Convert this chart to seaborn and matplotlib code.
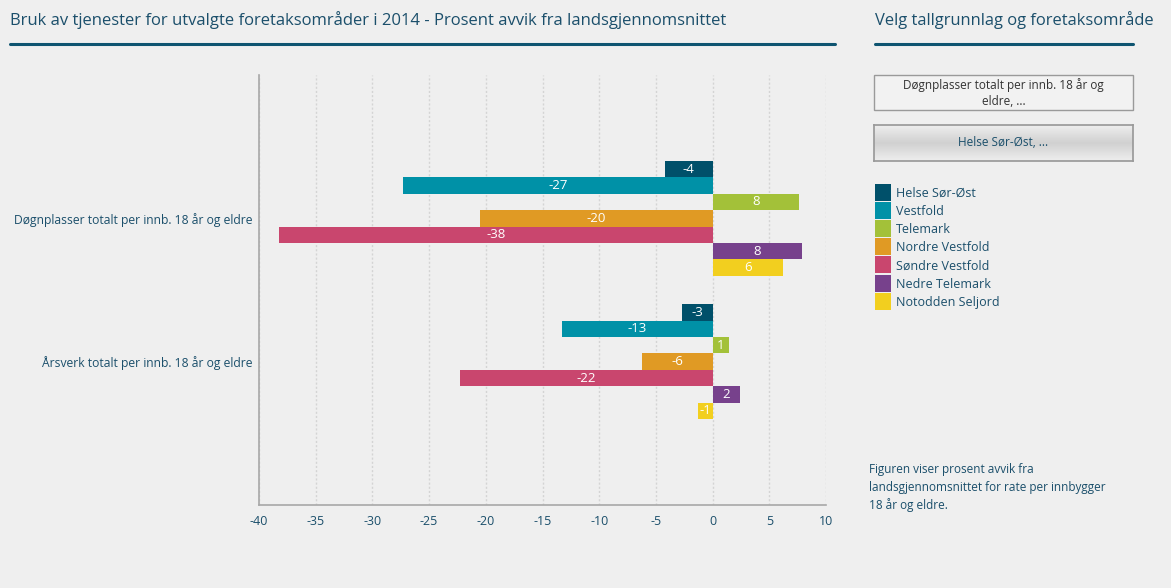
import matplotlib
matplotlib.use("Agg")
import matplotlib.pyplot as plt
import matplotlib.patches as mpatches
import seaborn as sns
import pandas as pd
import numpy as np

categories = ["Døgnplasser totalt per innb. 18 år og eldre",
              "Årsverk totalt per innb. 18 år og eldre"]
areas = ["Helse Sør-Øst", "Vestfold", "Telemark", "Nordre Vestfold",
         "Søndre Vestfold", "Nedre Telemark", "Notodden Seljord"]
dognplasser = [-4.2, -27.3, 7.6, -20.5, -38.2, 7.9, 6.2]
arsverk = [-2.7, -13.3, 1.45, -6.2, -22.3, 2.4, -1.3]
colors = ["#00506a", "#0091a7", "#a3c139", "#e09a24", "#c9466e", "#77418c", "#f2cf1f"]
xticks = [-40, -35, -30, -25, -20, -15, -10, -5, 0, 5, 10]

title = "Bruk av tjenester for utvalgte foretaksområder i 2014 - Prosent avvik fra landsgjennomsnittet"
side_title = "Velg tallgrunnlag og foretaksområde"
button1 = "Døgnplasser totalt per innb. 18 år og\neldre, ..."
button2 = "Helse Sør-Øst, ..."
note = "Figuren viser prosent avvik fra\nlandsgjennomsnittet for rate per innbygger\n18 år og eldre."

df = pd.DataFrame({
    "kategori": [categories[0]] * len(areas) + [categories[1]] * len(areas),
    "omrade": areas + areas,
    "verdi": dognplasser + arsverk,
})

sns.set_theme(style="white")
plt.rcParams["font.family"] = ["Open Sans", "DejaVu Sans"]
BG = "#efefef"
TXT = "#1b4f6b"

fig = plt.figure(figsize=(11.71, 5.88), dpi=100, facecolor=BG)
W, H = 1171, 588
ax = fig.add_axes([259 / W, 1 - 505 / H, (826 - 259) / W, (505 - 75) / H])
ax.set_facecolor(BG)

sns.barplot(data=df, y="kategori", x="verdi", hue="omrade", hue_order=areas,
            order=categories, palette=colors, orient="h", width=0.8,
            saturation=1, legend=False, ax=ax, errorbar=None, linewidth=0)

for cont in ax.containers:
    labels = [f"{round(v.get_width()):d}" for v in cont]
    ax.bar_label(cont, labels=labels, label_type="center", color="white",
                 fontsize=9.5)

ax.set_xlim(-40, 10)
ax.set_ylim(2.0, -1.0)
ax.set_xticks(xticks)
ax.set_xticklabels([str(t) for t in xticks], color=TXT, fontsize=9)
ax.tick_params(axis="x", length=4, color="#aaaaaa", pad=3)
ax.tick_params(axis="y", length=0, pad=5, labelsize=8.7, labelcolor=TXT)
ax.set_xlabel("")
ax.set_ylabel("")
ax.xaxis.grid(True, linestyle=(0, (1.5, 1.5)), color="#d4d4d4", linewidth=1)
ax.set_axisbelow(True)
for s in ["top", "right"]:
    ax.spines[s].set_visible(False)
for s in ["left", "bottom"]:
    ax.spines[s].set_color("#a8a8a8")
    ax.spines[s].set_linewidth(1.2)

# Title and underline
fig.text(10 / W, 1 - 20 / H, title, color=TXT, fontsize=12, va="center", ha="left")
fig.add_artist(plt.Line2D([10 / W, 835 / W], [1 - 44 / H, 1 - 44 / H], color="#0e5470", linewidth=2.2))
fig.text(875 / W, 1 - 20 / H, side_title, color=TXT, fontsize=11.9, va="center", ha="left")
fig.add_artist(plt.Line2D([875 / W, 1133 / W], [1 - 44 / H, 1 - 44 / H], color="#0e5470", linewidth=2.2))

# Buttons
fig.add_artist(mpatches.Rectangle((874 / W, 1 - 110 / H), 259 / W, 35 / H,
                                  facecolor="#f2f2f2", edgecolor="#9a9a9a", linewidth=1))
fig.text(1003.5 / W, 1 - 93.5 / H, button1, color="#333333", fontsize=8.5,
         ha="center", va="center", linespacing=1.3)
grad = np.concatenate([np.linspace(0.93, 0.82, 20), np.linspace(0.82, 0.93, 20)])
gax = fig.add_axes([874 / W, 1 - 161 / H, 259 / W, 36 / H])
gax.imshow(np.tile(grad[:, None], (1, 10)), cmap="gray", vmin=0, vmax=1, aspect="auto",
           extent=[0, 1, 0, 1])
gax.set_xticks([]); gax.set_yticks([])
for s in gax.spines.values():
    s.set_color("#9a9a9a")
gax.text(0.5, 0.5, button2, color=TXT, fontsize=8.5, ha="center", va="center",
         transform=gax.transAxes)

# Legend
for i, (a, c) in enumerate(zip(areas, colors)):
    yc = 192 + i * 18.2
    fig.add_artist(mpatches.Rectangle((875 / W, 1 - (yc + 8.5) / H), 16 / W, 17 / H,
                                      facecolor=c, edgecolor="none"))
    fig.text(896 / W, 1 - (yc + 1) / H, a, color=TXT, fontsize=9, va="center", ha="left")

fig.text(869 / W, 1 - 463 / H, note, color=TXT, fontsize=8.5, va="top", ha="left",
         linespacing=1.45)

fig.savefig("out.png", dpi=100, facecolor=BG)
